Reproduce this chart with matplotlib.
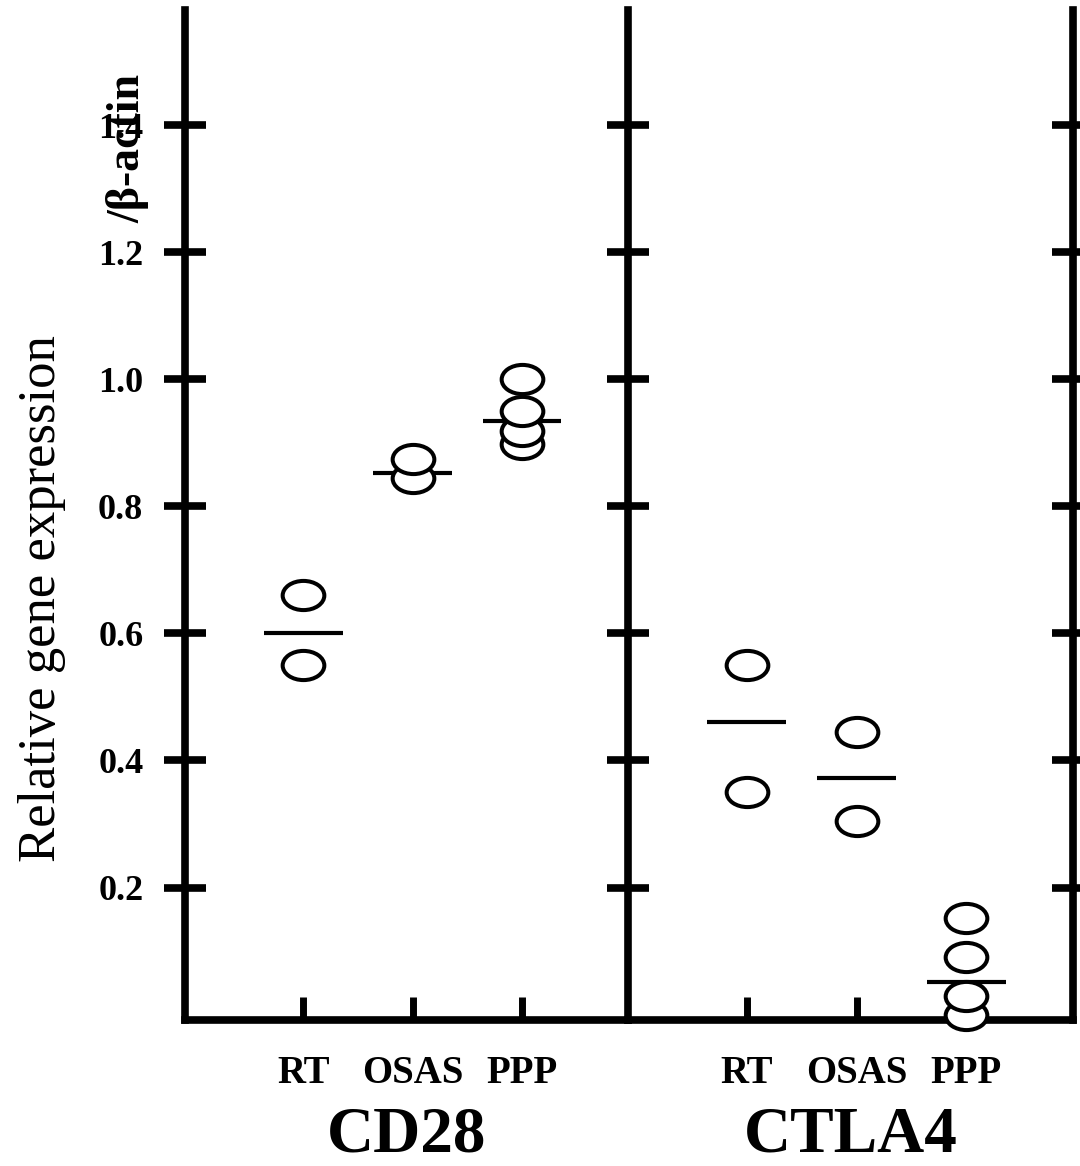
import matplotlib
matplotlib.use("Agg")
import matplotlib.pyplot as plt
from matplotlib.path import Path
from matplotlib.transforms import Affine2D

plt.rcParams['font.family'] = ['Liberation Serif', 'DejaVu Serif']

# data
groups = ["CD28", "CTLA4"]
categories = ["RT", "OSAS", "PPP"]

cd28_rt = [0.66, 0.55]
cd28_osas = [0.875, 0.845]
cd28_ppp = [1.0, 0.95, 0.918, 0.898]
cd28_means = [0.60, 0.853, 0.935]

ctla4_rt = [0.55, 0.35]
ctla4_osas = [0.445, 0.305]
ctla4_ppp = [0.152, 0.09, 0.029, 0.0]
ctla4_means = [0.46, 0.373, 0.052]

ytick_vals = [0.2, 0.4, 0.6, 0.8, 1.0, 1.2, 1.4]
ytick_labels = ["0.2", "0.4", "0.6", "0.8", "1.0", "1.2", "1.4"]

group_points = [[cd28_rt, cd28_osas, cd28_ppp], [ctla4_rt, ctla4_osas, ctla4_ppp]]
group_means = [cd28_means, ctla4_means]

# flattened ellipse marker
ellipse = Path.unit_circle().transformed(Affine2D().scale(1.0, 0.7))

fig = plt.figure(figsize=(10.8, 11.66), dpi=100)
ax1 = fig.add_axes([0.1713, 0.1252, 0.4102, 0.8662])
ax2 = fig.add_axes([0.5815, 0.1252, 0.4120, 0.8662])

for i, ax in enumerate([ax1, ax2]):
    pts = group_points[i]
    means = group_means[i]
    for j, vals in enumerate(pts):
        ax.hlines(means[j], j - 0.36, j + 0.36, color='black', lw=3, zorder=2)
        for v in sorted(vals):
            ax.plot(j, v, marker=ellipse, ms=30, mfc='white', mec='black',
                    mew=2.9, ls='none', clip_on=False, zorder=4)

    ax.set_xlim(-1.08, 2.97)
    ax.set_ylim(-0.0085, 1.581)
    ax.set_xticks(range(len(categories)))
    ax.set_xticklabels(categories, fontsize=28, fontweight='bold')
    ax.set_yticks(ytick_vals)
    ax.spines['top'].set_visible(False)
    for s in ['left', 'right', 'bottom']:
        ax.spines[s].set_linewidth(5.5)
    ax.tick_params(axis='x', direction='in', length=16.5, width=5, pad=25)
    ax.tick_params(axis='y', direction='inout', length=30, width=5.5)
    ax.text(0.5, -0.114, groups[i], transform=ax.transAxes, ha='center',
            va='center', fontsize=47, fontweight='bold')

ax1.spines['right'].set_visible(False)
ax1.set_yticklabels(ytick_labels, fontsize=26, fontweight='bold')
ax1.tick_params(axis='y', pad=15)

ax2.set_yticklabels([])
ax2.tick_params(axis='y', left=True, right=True)

fig.text(42 / 1080, 1 - 599 / 1166, "Relative gene expression", rotation=90,
         ha='center', va='center', fontsize=38)
fig.text(128 / 1080, 1 - 148 / 1166, "/β-actin", rotation=90,
         ha='center', va='center', fontsize=33, fontweight='bold')

plt.savefig("out.png", dpi=100)
